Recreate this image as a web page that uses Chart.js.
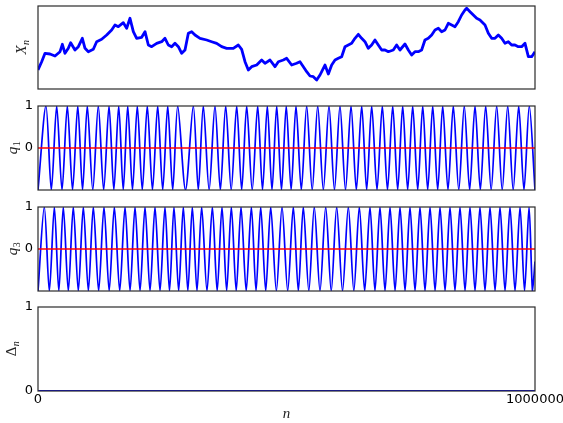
<!DOCTYPE html>
<html>
<head>
<meta charset="utf-8">
<script src="https://cdn.jsdelivr.net/npm/chart.js@4.4.1/dist/chart.umd.min.js"></script>
<style>
  html, body { margin: 0; padding: 0; background: #ffffff; }
  #wrap { position: relative; width: 563px; height: 423px; overflow: hidden; }
  #wrap canvas { position: absolute; left: 0; }
</style>
</head>
<body>
<div id="wrap">
  <canvas id="pWalk"></canvas>
  <canvas id="pQ1"></canvas>
  <canvas id="pQ3"></canvas>
  <canvas id="pDelta"></canvas>
</div>
<script>
// Step positions below are given in thousands of steps.
const STEP_UNIT = 1000;
const N_MAX = 1000000;

// Random walk X_n
const walkN = [0, 7.4, 14.1, 24.1, 34.2, 44.3, 49, 54.3, 61, 65.7, 74.4, 81.2, 89.2, 94.6, 101.3, 111.3, 118, 128.1, 138.2, 148.2,
  154.9, 161.6, 171.7, 178.4, 185.1, 191.8, 198.5, 208.6, 215.3, 222, 228.7, 238.8, 248.8, 255.5, 262.2, 268.9, 275.6, 282.4, 289.1, 295.8,
  302.5, 309.2, 315.9, 326, 339.4, 349.4, 359.5, 369.5, 379.6, 393, 403.1, 409.8, 416.5, 423.2, 429.9, 440, 450, 456.7, 466.8, 476.8,
  483.6, 493.6, 500.3, 510.4, 520.4, 527.1, 533.9, 540.6, 547.3, 554, 560.7, 567.4, 574.1, 577.4, 584.2, 590.9, 597.6, 604.3, 611, 617.7,
  624.4, 631.1, 637.8, 644.5, 651.2, 657.9, 664.6, 671.3, 678, 684.7, 691.5, 698.2, 704.9, 714.9, 721.6, 728.3, 738.4, 745.1, 751.8, 758.5,
  765.2, 771.9, 778.6, 785.3, 792.1, 798.8, 805.5, 812.2, 818.9, 825.6, 832.3, 839, 845.7, 852.4, 859.1, 862.5, 869.2, 875.9, 882.6, 889.3,
  899.4, 906.1, 912.8, 919.5, 926.2, 932.9, 939.6, 946.3, 953, 959.7, 966.4, 973.1, 979.9, 986.6, 993.3, 1000];
const walkX = [19, 27.3, 35.7, 35, 33, 37.3, 44.7, 35.7, 40.7, 46.3, 39, 42.3, 50.7, 40.7, 37.3, 39.7, 47.3, 49.7, 54, 59,
  64, 62.3, 66.3, 60.7, 70.7, 57.3, 50.7, 51.7, 57.3, 44, 42.3, 45.7, 47.3, 50.7, 44, 42.3, 45.7, 42.3, 35.7, 39,
  55.7, 57.3, 54, 50.7, 49, 47.3, 45.7, 42.3, 40.7, 40.7, 44, 39.7, 27.3, 19, 22.3, 24, 29, 25.7, 29, 22.3,
  27.3, 29, 30.7, 24, 25.7, 27.3, 22.3, 17.3, 13, 12.3, 9, 14, 20.7, 24, 15, 24, 29, 30.7, 32.3, 42.3,
  44, 45.7, 50.7, 54.7, 50.7, 47.3, 40.7, 44, 49, 44, 39, 39, 37.3, 39, 44, 39, 45, 39, 34, 37.3,
  37.3, 39, 49, 50.7, 54, 59, 60.7, 57.3, 59, 65.7, 64, 62.3, 67.3, 74, 79, 80.7, 77.3, 74, 70.7, 69,
  64, 55.7, 50.7, 50.7, 54, 50.7, 45.7, 47.3, 44, 44, 42.3, 42.3, 45.7, 32.3, 32.3, 37.3];
const walkRange = [0, 83];

// q_1: positions of its maxima (q = 1) and minima (q = -1)
const q1Peaks = [16, 37.6, 59, 80, 99.2, 121.3, 142.9, 162.4, 180.5, 199.8, 219.9, 240.8, 261, 281.1, 312.5, 332.6, 356.1, 377.7,
  399.8, 419.9, 442, 461.4, 480.3, 499.5, 519.1, 540.6, 562.8, 585.5, 607.6, 629.8, 651.3, 671.4, 692.8, 713.7, 733.8, 753.9,
  774.1, 794.2, 814.3, 835.6, 857.7, 879.3, 900.8, 922.9, 945.1, 967.2, 988.5];
const q1Troughs = [0, 26.8, 48.3, 69.5, 89.6, 110.2, 132.1, 152.6, 171.5, 190.1, 209.8, 230.3, 250.9, 271, 296.8, 322.5, 344.3,
  366.9, 388.7, 409.8, 431, 451.7, 470.8, 489.9, 509.3, 529.8, 551.7, 574.1, 596.5, 618.7, 640.5, 661.3, 682.1, 703.2, 723.7,
  743.8, 764, 784.1, 804.2, 824.9, 846.6, 868.5, 890, 911.8, 934, 956.1, 977.8, 1000];

// q_3: positions of its maxima (q = 1) and minima (q = -1), plus the final sample
const q3Peaks = [12.7, 32.9, 50.9, 71, 91.2, 111.3, 132.8, 153.6, 175.1, 195.2, 215.3, 235.4, 255.5, 273.6, 292.4, 310.5, 329.3,
  350.8, 370.2, 389, 408.5, 429.3, 448.1, 468.2, 491, 513.7, 533.8, 555.9, 578.9, 601, 624.4, 646.5, 668, 688.1, 708.3, 728.4,
  748.5, 768.6, 788.8, 808.9, 829, 849.1, 869.2, 889.3, 909.5, 929.6, 949.7, 969.9, 988];
const q3Troughs = [0, 22.8, 41.9, 61, 81.1, 101.3, 122, 143.2, 164.4, 185.2, 205.3, 225.4, 245.5, 264.6, 283, 301.5, 319.9, 340,
  360.5, 379.6, 398.8, 418.9, 438.7, 458.2, 479.6, 502.4, 523.8, 544.9, 567.4, 590, 612.7, 635.5, 657.3, 678, 698.2, 718.4,
  738.5, 758.6, 778.7, 798.9, 819, 839, 859.2, 879.3, 899.4, 919.6, 939.7, 959.8, 979, 995];
const q3LastN = 1000;
const q3LastV = -0.3;

// Delta_n
const deltaN = [0, 1000];
const deltaV = [0, 0];

// Reference line q = 0
const zeroN = [0, 1000];
const zeroV = [0, 0];

// Tick labels
const qTicks = [0, 1];
const deltaTicks = [0, 1];
const nTicks = [0, 1000000];

// ---- helpers ----
function toPoints(ns, vs) {
  return ns.map((n, i) => ({ x: n * STEP_UNIT, y: vs[i] }));
}
function turningPoints(peaks, troughs) {
  const pts = peaks.map(n => ({ x: n * STEP_UNIT, y: 1 }))
    .concat(troughs.map(n => ({ x: n * STEP_UNIT, y: -1 })));
  pts.sort((a, b) => a.x - b.x);
  return pts;
}

const BLUE = '#0000ff';
const RED = '#ff0000';
const TICK_FONT = { family: 'DejaVu Sans', size: 13 };

// Axes frame drawn over the data, like plot spines
const frame = {
  id: 'frame',
  afterDatasetsDraw(chart) {
    const { ctx, chartArea: a } = chart;
    ctx.save();
    ctx.strokeStyle = '#2a2a2a';
    ctx.lineWidth = 1.2;
    ctx.strokeRect(a.left, a.top, a.right - a.left, a.bottom - a.top);
    ctx.restore();
  }
};

// Rotated side label with a subscript
const sideLabel = {
  id: 'sideLabel',
  afterDraw(chart, args, o) {
    if (!o || !o.main) return;
    const { ctx, chartArea: a } = chart;
    const cy = (a.top + a.bottom) / 2;
    ctx.save();
    ctx.translate(o.x, cy);
    ctx.rotate(-Math.PI / 2);
    ctx.fillStyle = '#222';
    ctx.textBaseline = 'alphabetic';
    ctx.textAlign = 'left';
    ctx.font = o.mainFont;
    const w1 = ctx.measureText(o.main).width;
    ctx.font = o.subFont;
    const w2 = ctx.measureText(o.sub).width;
    const x0 = -(w1 + w2) / 2;
    ctx.font = o.mainFont;
    ctx.fillText(o.main, x0, 5);
    ctx.font = o.subFont;
    ctx.fillText(o.sub, x0 + w1 + 0.5, 8);
    ctx.restore();
  }
};

function setup(id, top, height) {
  const c = document.getElementById(id);
  c.width = 563; c.height = height;
  c.style.top = top + 'px';
  c.style.width = '563px'; c.style.height = height + 'px';
  return c;
}

function lineDs(points, color, width, tension) {
  return {
    data: points, borderColor: color, borderWidth: width, pointRadius: 0,
    fill: false, tension: tension || 0, borderJoinStyle: 'round'
  };
}

function yAxis(min, max, ticks) {
  if (!ticks) return { display: false, min, max };
  return {
    min, max,
    grid: { display: false, drawTicks: false },
    border: { display: false },
    ticks: { font: TICK_FONT, color: '#000', padding: 5, callback: v => String(v) },
    afterBuildTicks: s => { s.ticks = ticks.map(v => ({ value: v })); },
    afterFit: s => { s.width = 38; s.paddingTop = 0; s.paddingBottom = 0; }
  };
}

function xAxis(show) {
  if (!show) return { type: 'linear', display: false, min: 0, max: N_MAX };
  return {
    type: 'linear', min: 0, max: N_MAX,
    grid: { display: false, drawTicks: false },
    border: { display: false },
    ticks: { font: TICK_FONT, color: '#000', padding: 1, maxRotation: 0, callback: v => String(v) },
    afterBuildTicks: s => { s.ticks = nTicks.map(v => ({ value: v })); },
    afterFit: s => { s.height = 32; s.paddingRight = 0; s.paddingLeft = 0; },
    title: {
      display: true, text: 'n', color: '#222',
      font: { family: 'Liberation Serif', size: 15, style: 'italic' },
      padding: { top: 0, bottom: 0 }
    }
  };
}

function panel(id, top, height, padding, datasets, y, showX, label) {
  const c = setup(id, top, height);
  return new Chart(c, {
    type: 'line',
    data: { datasets },
    options: {
      responsive: false, animation: false, events: [],
      layout: { padding },
      scales: { x: xAxis(showX), y },
      plugins: { legend: { display: false }, tooltip: { enabled: false }, sideLabel: label }
    },
    plugins: [frame, sideLabel]
  });
}

const MAIN = 'italic 15px "Liberation Serif"';
const SUB = 'italic 10px "Liberation Serif"';
const SUB_UP = '10px "Liberation Serif"';

// X_n
panel('pWalk', 0, 100, { top: 6, bottom: 11, left: 38, right: 28 },
  [lineDs(toPoints(walkN, walkX), BLUE, 2.8)],
  yAxis(walkRange[0], walkRange[1], null), false,
  { main: 'X', sub: 'n', x: 21, mainFont: MAIN, subFont: SUB });

// q_1
panel('pQ1', 90, 110, { top: 16, bottom: 10, left: 0, right: 28 },
  [lineDs(toPoints(zeroN, zeroV), RED, 1.5),
   lineDs(turningPoints(q1Peaks, q1Troughs), BLUE, 1.7, 0.3)],
  yAxis(-1, 1, qTicks), false,
  { main: 'q', sub: '1', x: 12, mainFont: MAIN, subFont: SUB_UP });

// q_3
const q3Pts = turningPoints(q3Peaks, q3Troughs);
q3Pts.push({ x: q3LastN * STEP_UNIT, y: q3LastV });
panel('pQ3', 191, 110, { top: 16, bottom: 10, left: 0, right: 28 },
  [lineDs(toPoints(zeroN, zeroV), RED, 1.5),
   lineDs(q3Pts, BLUE, 1.7, 0.3)],
  yAxis(-1, 1, qTicks), false,
  { main: 'q', sub: '3', x: 12, mainFont: MAIN, subFont: SUB_UP });

// Delta_n
panel('pDelta', 291, 132, { top: 16, bottom: 0, left: 0, right: 28 },
  [lineDs(toPoints(deltaN, deltaV), BLUE, 2)],
  yAxis(0, 1, deltaTicks), true,
  { main: '\u0394', sub: 'n', x: 11, mainFont: '15px "Liberation Serif"', subFont: SUB });
</script>
</body>
</html>
